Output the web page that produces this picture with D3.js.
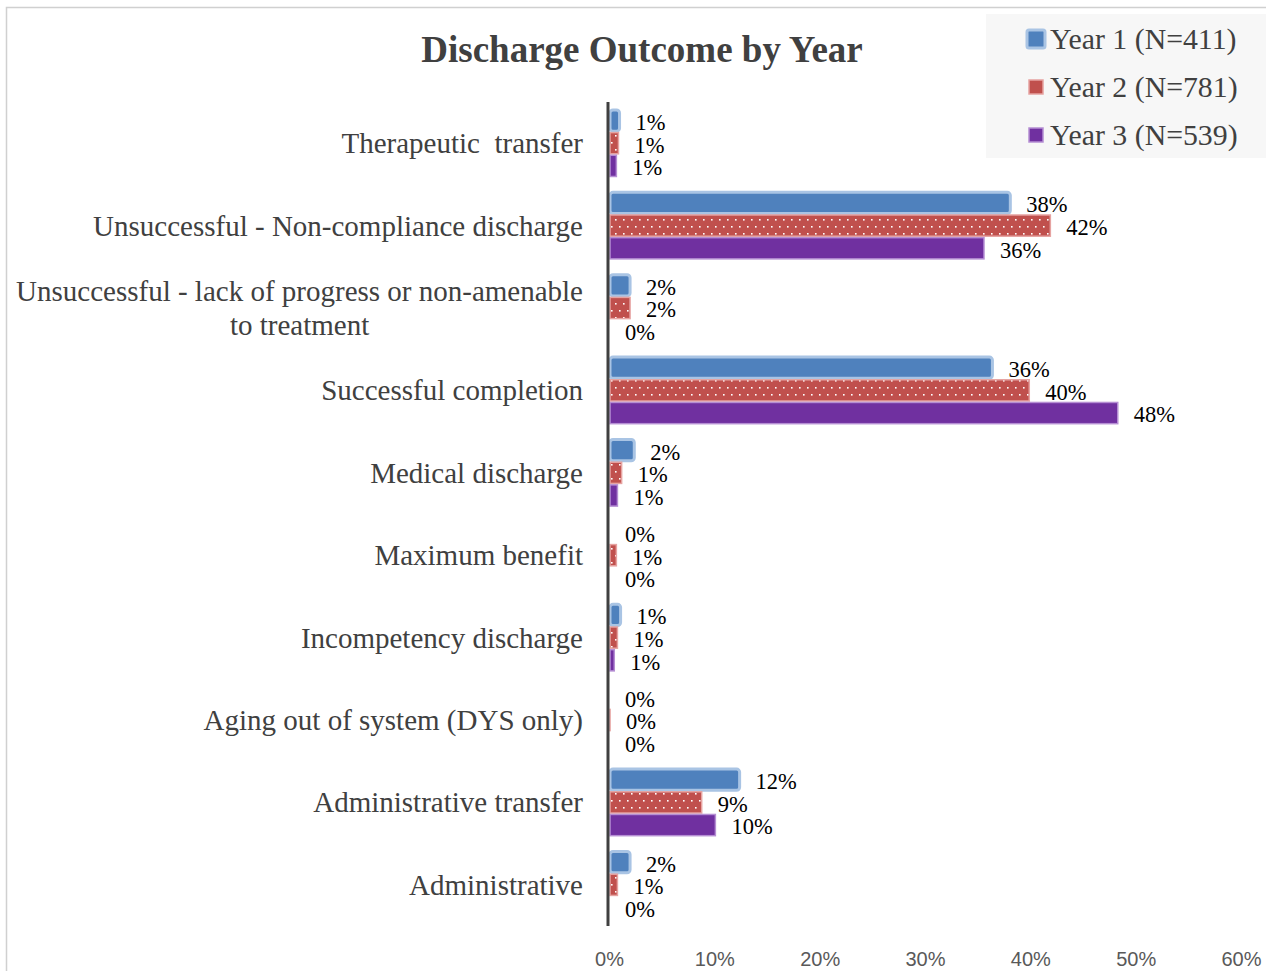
<!DOCTYPE html>
<html><head><meta charset="utf-8">
<script src="https://cdn.jsdelivr.net/npm/d3@7"></script>
<style>body{margin:0;background:#fff}svg{display:block}</style>
</head><body>
<svg id="c" width="1266" height="971"></svg>
<script>
const categories = ["Therapeutic  transfer","Unsuccessful - Non-compliance discharge","Unsuccessful - lack of progress or non-amenable to treatment","Successful completion","Medical discharge","Maximum benefit","Incompetency discharge","Aging out of system (DYS only)","Administrative transfer","Administrative"];
const seriesNames = ["Year 1 (N=411)","Year 2 (N=781)","Year 3 (N=539)"];
const year1 = [1.0, 38.1, 2.0, 36.4, 2.4, 0, 1.1, 0, 12.4, 2.0];
const year2 = [0.9, 41.9, 2.0, 39.9, 1.2, 0.7, 0.8, 0.1, 8.8, 0.8];
const year3 = [0.7, 35.6, 0, 48.3, 0.8, 0, 0.5, 0, 10.1, 0];
const xTicks = [0,10,20,30,40,50,60];

const svg = d3.select("#c");
const serif = "'Liberation Serif','Times New Roman',serif";
const colors = ["#4F81BD","#C0504D","#7030A0"];
const strokes = ["#A9C4E4","#E6A3A1","#B58ED3"];

// frame
svg.append("rect").attr("x",6.5).attr("y",7.5).attr("width",1300).attr("height",1000)
  .attr("fill","none").attr("stroke","#D0D0D0").attr("stroke-width",1.5);

const defs = svg.append("defs");
const pat = defs.append("pattern").attr("id","dots").attr("patternUnits","userSpaceOnUse")
  .attr("width",8).attr("height",14).attr("x",610).attr("y",0);
pat.append("rect").attr("width",8).attr("height",14).attr("fill",colors[1]);
pat.append("rect").attr("x",1).attr("y",2).attr("width",1.6).attr("height",1.6).attr("fill","#fff");
pat.append("rect").attr("x",5).attr("y",9).attr("width",1.6).attr("height",1.6).attr("fill","#fff");

const x = d3.scaleLinear().domain([0,60]).range([609,1241]);
const y = d3.scaleBand().domain(categories).range([102,926]).paddingInner(0.18).paddingOuter(0.09);
const sub = d3.scaleBand().domain([0,1,2]).range([0,y.bandwidth()]).paddingInner(0.02);

// title
svg.append("text").attr("x",642).attr("y",62).attr("text-anchor","middle")
  .attr("font-family",serif).attr("font-weight","bold").attr("font-size",37).attr("fill","#404040")
  .text("Discharge Outcome by Year");

const series = [year1,year2,year3];
series.forEach((vals,si)=>{
  const g = svg.append("g");
  categories.forEach((c,i)=>{
    const v = vals[i];
    const y0 = y(c)+sub(si);
    const h = sub.bandwidth();
    if (v>0) {
      g.append("rect").attr("x",x(0)+1).attr("y",y0+0.5).attr("width",Math.max(0,x(v)-x(0)-1)).attr("height",h-1)
        .attr("fill", si===1 ? "url(#dots)" : colors[si])
        .attr("stroke",strokes[si]).attr("stroke-width", si===0?3:1.5)
        .attr("rx", si===0?3:0);
    }
    svg.append("text").attr("x",x(v)+16).attr("y",y0+h/2+1.5).attr("dy","0.35em")
      .attr("font-family",serif).attr("font-size",22.5).attr("fill","#000")
      .text(Math.round(v)+"%");
  });
});

// category labels
categories.forEach(c=>{
  const cy = y(c)+y.bandwidth()/2;
  const t = svg.append("text").attr("text-anchor","end").attr("font-family",serif)
    .attr("font-size",29).attr("fill","#404040").style("white-space","pre");
  if (c.startsWith("Unsuccessful - lack")) {
    const l1 = t.append("tspan").attr("x",583).attr("y",cy-7).text("Unsuccessful - lack of progress or non-amenable");
    const w = l1.node().getComputedTextLength();
    svg.append("text").attr("text-anchor","middle").attr("font-family",serif)
      .attr("font-size",29).attr("fill","#404040").attr("x",583-w/2).attr("y",cy+27).text("to treatment");
  } else {
    t.attr("x",583).attr("y",cy+10).text(c);
  }
});

// axis line
svg.append("line").attr("x1",608).attr("x2",608).attr("y1",102).attr("y2",926)
  .attr("stroke","#404040").attr("stroke-width",3);

// x tick labels
const ax = svg.append("g").attr("transform","translate(0,926)")
  .call(d3.axisBottom(x).tickValues(xTicks).tickFormat(d=>d+"%").tickSize(0).tickPadding(26));
ax.select(".domain").remove();
ax.selectAll("text").attr("font-family","'Liberation Sans',Arial,sans-serif").attr("font-size",20).attr("fill","#595959");

// legend
const lg = svg.append("g");
lg.append("rect").attr("x",986).attr("y",14).attr("width",280).attr("height",144).attr("fill","#F7F7F7");
seriesNames.forEach((n,i)=>{
  const ly = 39 + i*48;
  lg.append("rect").attr("x", i===0?1027:1029).attr("y", ly-(i===0?9:7)).attr("width", i===0?18:14).attr("height", i===0?18:14)
    .attr("fill", colors[i]).attr("stroke",strokes[i]).attr("stroke-width", i===0?3:1.5).attr("rx", i===0?2:0);
  lg.append("text").attr("x",1050).attr("y",ly+10).attr("font-family",serif).attr("font-size",29.8).attr("fill","#404040").text(n);
});
</script>
</body></html>
